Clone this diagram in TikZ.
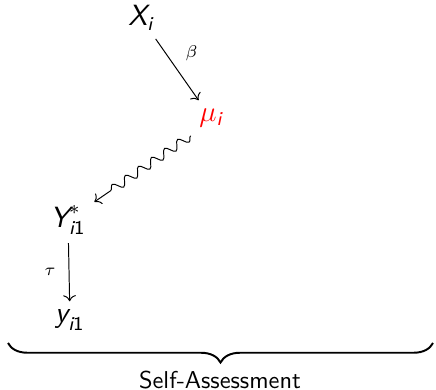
\documentclass[tikz,border=0pt]{standalone}
\usepackage{amsmath}
\usepackage{tikz}
\usetikzlibrary{arrows.meta, decorations.pathmorphing, decorations.pathreplacing}
\renewcommand{\familydefault}{\sfdefault}
\newcommand{\sv}[1]{\textsf{\itshape #1}}

\begin{document}
\begin{tikzpicture}[x=0.41pt, y=-0.41pt,
    var/.style={font=\large},
    lab/.style={font=\scriptsize}]
    \useasboundingbox (0,0) rectangle (436,390);

    % Variables
    \node[var] (X) at (141,18) {$\sv{X}_{\sv{i}}$};
    \node[var, red] (mu) at (211,118) {$\mu_{\sv{i}}$};
    \node[var] (Ystar) at (68,220) {$\sv{Y}^{*}_{\sv{i}\textsf{1}}$};
    \node[var] (y) at (70,320) {$\sv{y}_{\sv{i}\textsf{1}}$};

    % Links
    \draw[->] (X) -- (mu) node[midway, above right, lab] {$\beta$};
    \draw[->, decorate,
          decoration={snake, amplitude=1.8pt, segment length=6.5pt, post length=2mm}]
        (mu.south west) -- (Ystar);
    \draw[->] (Ystar) -- (y) node[midway, left, lab, xshift=-2pt] {$\tau$};

    % Brace for the measure
    \coordinate (bl) at (8,343);
    \coordinate (br) at (433,343);
    \draw[decorate, decoration={brace, amplitude=8pt, mirror}, thick] (bl) -- (br);
    \node (self) at (220,380) {Self-Assessment};
\end{tikzpicture}
\end{document}
